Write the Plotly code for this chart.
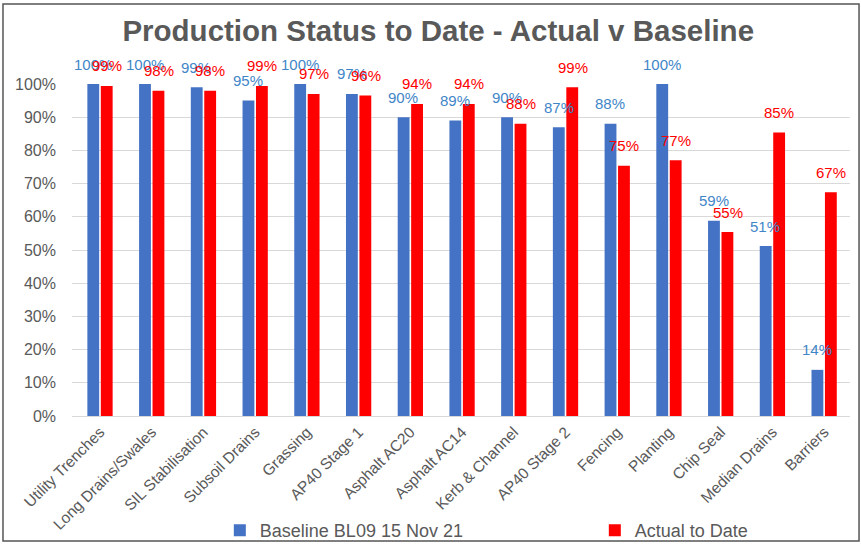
import plotly.graph_objects as go

categories = ["Utility Trenches", "Long Drains/Swales", "SIL Stabilisation", "Subsoil Drains",
              "Grassing", "AP40 Stage 1", "Asphalt AC20", "Asphalt AC14", "Kerb & Channel",
              "AP40 Stage 2", "Fencing", "Planting", "Chip Seal", "Median Drains", "Barriers"]
baseline = [1.00, 1.00, 0.99, 0.95, 1.00, 0.97, 0.90, 0.89, 0.90, 0.87, 0.88, 1.00, 0.588, 0.512, 0.139]
actual = [0.994, 0.98, 0.98, 0.994, 0.97, 0.965, 0.94, 0.94, 0.88, 0.99, 0.754, 0.77, 0.554, 0.854, 0.674]
ytick_vals = [i / 10 for i in range(11)]
ytick_text = [f"{i*10}%" for i in range(11)]

BLUE = "#4472C4"
RED = "#FF0000"
BLUE_LBL = "#3F86C8"
GRAY = "#595959"
FONT = "Liberation Sans, Arial, sans-serif"

fig = go.Figure()
fig.add_trace(go.Bar(name="Baseline BL09 15 Nov 21", x=categories, y=baseline,
                     marker=dict(color=BLUE, line=dict(width=0))))
fig.add_trace(go.Bar(name="Actual to Date", x=categories, y=actual,
                     marker=dict(color=RED, line=dict(width=0))))

annotations = []
for c, v in zip(categories, baseline):
    annotations.append(dict(x=c, y=v, xref="x", yref="y", text=f"{round(v*100)}%",
                            showarrow=False, xshift=-7, yshift=20, yanchor="middle",
                            font=dict(family=FONT, size=15, color=BLUE_LBL)))
for c, v in zip(categories, actual):
    annotations.append(dict(x=c, y=v, xref="x", yref="y", text=f"{round(v*100)}%",
                            showarrow=False, xshift=7, yshift=20, yanchor="middle",
                            font=dict(family=FONT, size=15, color=RED)))

fig.update_layout(
    width=861, height=544,
    margin=dict(l=72, r=11, t=84, b=128, autoexpand=False),
    paper_bgcolor="white", plot_bgcolor="white",
    barmode="group", bargap=0.48, bargroupgap=0.12,
    font=dict(family=FONT, color=GRAY),
    title=dict(text="<b>Production Status to Date - Actual v Baseline</b>",
               x=0.509, xanchor="center", y=0.943, yanchor="middle",
               font=dict(family=FONT, size=29.5, color=GRAY)),
    xaxis=dict(tickangle=-45, tickfont=dict(family=FONT, size=15.5, color=GRAY),
               showgrid=False, showline=True, linecolor="#D9D9D9", linewidth=1,
               ticks="", fixedrange=True),
    yaxis=dict(range=[0, 1], tickvals=ytick_vals, ticktext=ytick_text,
               tickfont=dict(family=FONT, size=16, color=GRAY),
               showgrid=True, gridcolor="#D9D9D9", gridwidth=1, zeroline=False,
               showline=False, ticks="", ticklabelstandoff=15),
    legend=dict(orientation="h", x=0.19, xanchor="left", y=-0.345, yanchor="middle",
                font=dict(family=FONT, size=18, color=GRAY),
                entrywidth=330, entrywidthmode="pixels", itemwidth=30,
                bgcolor="rgba(0,0,0,0)"),
    annotations=annotations,
    shapes=[dict(type="rect", xref="paper", yref="paper",
                 x0=-0.0887, x1=1.0116, y0=-0.3765, y1=1.241,
                 line=dict(color="#555555", width=1.5), layer="below")],
)
for tr in fig.data:
    tr.cliponaxis = False

fig.write_html("out.html", config={"displayModeBar": False},
               post_script="document.body.style.margin='0';document.body.style.overflow='hidden';")
